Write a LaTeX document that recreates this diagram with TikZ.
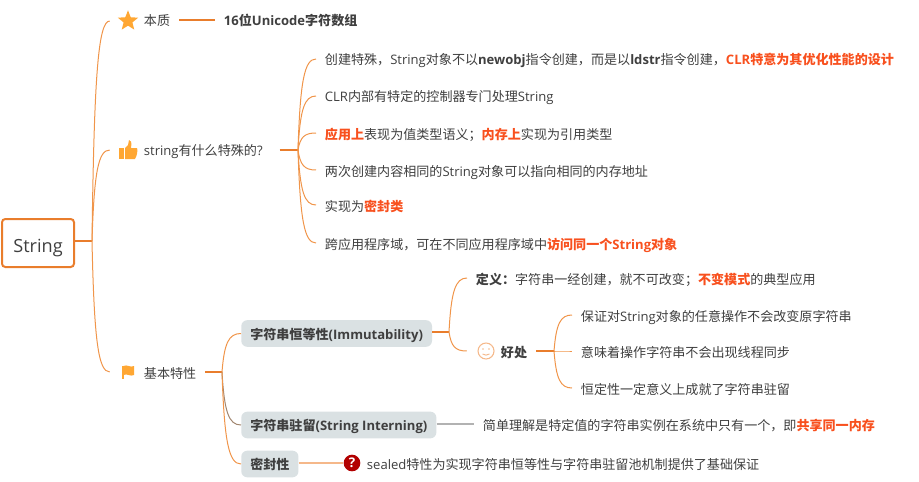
\documentclass[tikz,border=0pt]{standalone}
\usepackage{fontspec}
\usepackage{xcolor}
\usetikzlibrary{shapes.geometric, calc}
\setmainfont{Noto Sans CJK SC}
\newfontfamily\latinfont{Open Sans}
\definecolor{branchline}{HTML}{F0954A}
\definecolor{rootline}{HTML}{E97D2C}
\definecolor{softline}{HTML}{F5B88A}
\definecolor{iconfill}{HTML}{FFA733}
\definecolor{textdark}{HTML}{3F3F3F}
\definecolor{hotword}{HTML}{F8501E}
\definecolor{boxfill}{HTML}{DAE1E3}
\newcommand{\en}[1]{{\latinfont #1}}
\newcommand{\enb}[1]{{\latinfont\bfseries #1}}
\newcommand{\hot}[1]{{\color{hotword}\bfseries #1}}
\tikzset{
    branch/.style={branchline, line width=0.75pt, to path={let \p1=(\tikztostart), \p2=(\tikztotarget) in
        .. controls ({\x1+0.12*(\x2-\x1)},{0.25*\y1+0.75*\y2}) and ({\x1+0.35*(\x2-\x1)},\y2) .. (\tikztotarget)}},
    stub/.style={rootline, line width=1.1pt},
    item/.style={anchor=west, inner xsep=6.5pt, inner ysep=1pt, text height=10.5pt, text depth=1.5pt, text=textdark,
        font=\fontsize{9.8}{12}\selectfont},
    topic/.style={anchor=west, inner xsep=6.75pt, inner ysep=4pt, text height=10.3pt, text depth=1.7pt, rounded corners=4.5pt,
        fill=boxfill, text=textdark, font=\fontsize{9.8}{12}\selectfont\bfseries},
    iconslot/.style={minimum size=27pt, inner sep=0pt},
    thumbicon/.pic={
        \fill[iconfill] (-9,-2) rectangle (-4.5,9);
        \fill[iconfill] (-3,-2) -- (0,-5) -- (1,-10) .. controls (3,-10) and (4,-8) .. (3,-2) -- (9,-2)
            .. controls (10,0) and (9,6) .. (7,9) -- (-3,9) -- cycle;
    },
    flagicon/.pic={
        \fill[iconfill] (-6,-6.5) rectangle (-4.5,7);
        \fill[iconfill] (-4.5,-6) .. controls (-1,-8) and (2,-4) .. (6,-6) -- (6,3) .. controls (2,5) and (-1,1) .. (-4.5,3) -- cycle;
    },
    smileicon/.pic={
        \draw[softline, line width=0.8pt] (0,0) circle (8);
        \fill[softline] (-3,-2) circle (0.9) (3,-2) circle (0.9);
        \draw[softline, line width=0.7pt] (-3.5,3) .. controls (-1.5,4.5) and (1.5,4.5) .. (3.5,3);
    }
}
\begin{document}
\begin{tikzpicture}[x=0.75pt, y=-0.75pt]
    \useasboundingbox (0,0) rectangle (919,481);

    \node[draw=rootline, line width=1.5pt, rounded corners=2.5pt, minimum width=54pt, minimum height=36pt, inner sep=0pt,
        text height=13.6pt, text depth=0pt, text=textdark, font=\fontsize{13.6}{16}\selectfont] (root) at (38,243) {\en{String}};
    \coordinate (rootfork) at (92,241);

    % first level
    \node[iconslot] (essenceicon) at (128,21) {};
    \node[star, star points=5, star point ratio=2.3, fill=iconfill, inner sep=0pt, minimum size=16pt] (essencestar) at (128,21) {};
    \node[item] (essence) at (135,20) {本质};
    \node[item, font=\fontsize{9.8}{12}\selectfont\bfseries] (essencevalue) at (215,20) {\enb{16}位\enb{Unicode}字符数组};

    \node[iconslot] (specialicon) at (128,150) {};
    \pic at (specialicon) {thumbicon};
    \node[item] (special) at (135,150) {\en{string}有什么特殊的\en{?}};
    \coordinate (specialfork) at (298,150);

    \node[iconslot] (basicicon) at (128,372) {};
    \pic at (basicicon) {flagicon};
    \node[item] (basic) at (135,372) {基本特性};
    \coordinate (basicfork) at (222,372);

    % special items
    \node[item] (special1) at (316,59) {创建特殊，\en{String}对象不以\enb{newobj}指令创建，而是以\enb{ldstr}指令创建，\hot{\enb{CLR}特意为其优化性能的设计}};
    \node[item] (special2) at (316,96) {\en{CLR}内部有特定的控制器专门处理\en{String}};
    \node[item] (special3) at (316,133) {\hot{应用上}表现为值类型语义；\hot{内存上}实现为引用类型};
    \node[item] (special4) at (316,170) {两次创建内容相同的\en{String}对象可以指向相同的内存地址};
    \node[item] (special5) at (316,205) {实现为\hot{密封类}};
    \node[item] (special6) at (316,243) {跨应用程序域，可在不同应用程序域中\hot{访问同一个\enb{String}对象}};

    % basic topics
    \node[topic] (immutable) at (241,333.5) {字符串恒等性\enb{(Immutability)}};
    \coordinate (immutablefork) at (449,332);
    \node[topic] (interning) at (241,425) {字符串驻留\enb{(String Interning)}};
    \node[topic] (sealedtopic) at (241,464) {密封性};

    \node[item] (definition) at (467,278) {\textbf{定义：}字符串一经创建，就不可改变；\hot{不变模式}的典型应用};
    \node[iconslot, minimum size=28.5pt] (benefiticon) at (486,351) {};
    \pic at (benefiticon) {smileicon};
    \node[item, font=\fontsize{9.8}{12}\selectfont\bfseries] (benefit) at (492,351) {好处};
    \coordinate (benefitfork) at (554,351);
    \node[item] (benefit1) at (572,315) {保证对\en{String}对象的任意操作不会改变原字符串};
    \node[item] (benefit2) at (572,351) {意味着操作字符串不会出现线程同步};
    \node[item] (benefit3) at (572,388) {恒定性一定意义上成就了字符串驻留};

    \node[item] (interningnote) at (474,424) {简单理解是特定值的字符串实例在系统中只有一个，即\hot{共享同一内存}};
    \node[circle, fill=red!70!black, text=white, inner sep=0pt, minimum size=12.5pt,
        font=\fontsize{10}{10}\latinfont\bfseries] (sealedicon) at (352,463) {?};
    \node[item] (sealednote) at (358,463) {\en{sealed}特性为实现字符串恒等性与字符串驻留池机制提供了基础保证};

    % connectors
    \draw[stub] (root.east |- rootfork) -- (rootfork);
    \draw[branch] (rootfork) to (essenceicon.west);
    \draw[branch] (rootfork) to (specialicon.west);
    \draw[branch] (rootfork) to (basicicon.west);
    \draw[rootline, line width=0.8pt] (essence.east) -- (essencevalue.west);

    \draw[stub, shorten <=6pt] (special.east) -- (specialfork);
    \foreach \idx in {1,...,6}
        \draw[branch] (specialfork) to (special\idx.west);

    \draw[stub] (basic.east) -- (basicfork);
    \draw[branch] (basicfork) to (immutable.west);
    \draw[branch, gray!70!branchline] (basicfork) to (interning.west);
    \draw[branch] (basicfork) to (sealedtopic.west);

    \draw[stub] (immutable.east |- immutablefork) -- (immutablefork);
    \draw[branch] (immutablefork) to (definition.west);
    \draw[branch] (immutablefork) to (benefiticon.west);

    \draw[stub] (benefit.east) -- (benefitfork);
    \foreach \idx in {1,2,3}
        \draw[branch] (benefitfork) to (benefit\idx.west);

    \draw[gray!60, line width=1.2pt] (interning.east |- interningnote) -- (interningnote.west);
    \draw[softline, line width=1.2pt] (sealedtopic.east |- sealedicon) -- (sealedicon.west);
\end{tikzpicture}
\end{document}
